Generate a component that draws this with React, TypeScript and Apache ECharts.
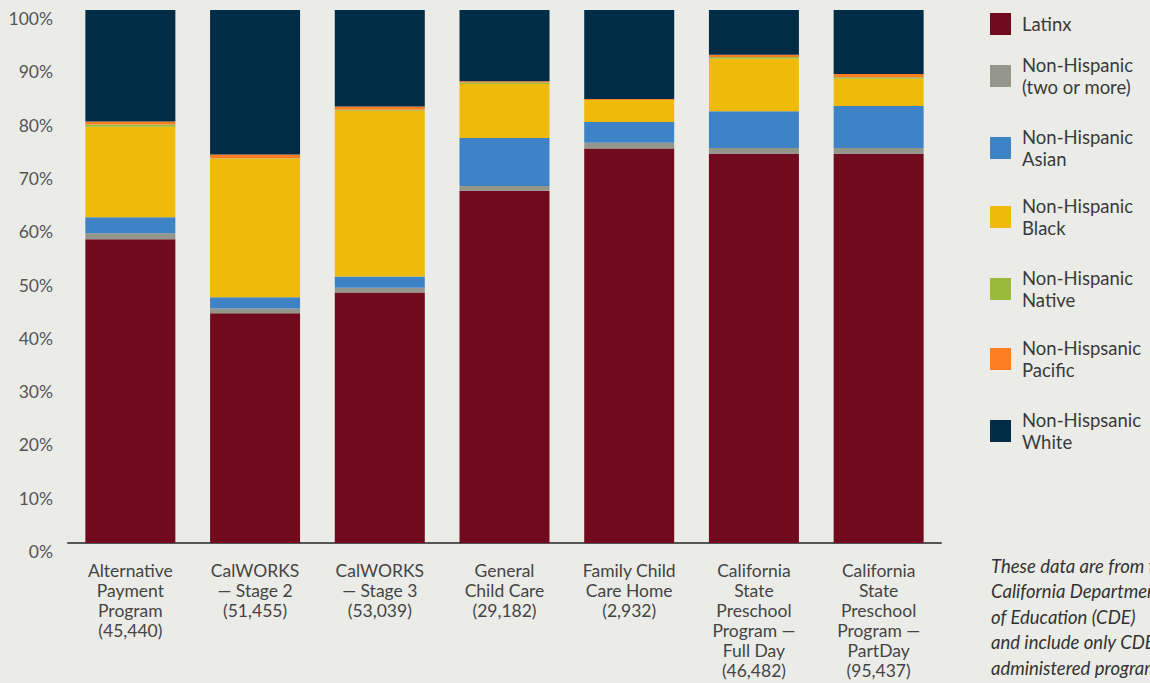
import React, { useEffect, useRef } from "react";
import * as echarts from "echarts";

const categories = [
  "Alternative\nPayment\nProgram\n(45,440)",
  "CalWORKS\n— Stage 2\n(51,455)",
  "CalWORKS\n— Stage 3\n(53,039)",
  "General\nChild Care\n(29,182)",
  "Family Child\nCare Home\n(2,932)",
  "California\nState\nPreschool\nProgram —\nFull Day\n(46,482)",
  "California\nState\nPreschool\nProgram —\nPartDay\n(95,437)",
];

const seriesNames = [
  "Latinx",
  "Non-Hispanic (two or more)",
  "Non-Hispanic Asian",
  "Non-Hispanic Black",
  "Non-Hispanic Native",
  "Non-Hispsanic Pacific",
  "Non-Hispsanic White",
];

const latinx = [57, 43.1, 47, 66.1, 74, 73, 73];
const twoOrMore = [1.1, 0.9, 0.9, 0.9, 1.1, 1.1, 1.1];
const asian = [3, 2.1, 2.1, 9, 3.9, 6.9, 7.9];
const black = [17, 26, 31.1, 10.1, 4.1, 9.9, 5.1];
const native = [0.4, 0.1, 0.2, 0.3, 0, 0.3, 0.3];
const pacific = [0.6, 0.7, 0.6, 0.25, 0.2, 0.4, 0.6];
const white = [20.9, 27.1, 18.1, 13.35, 17.1, 8.4, 12];

const seriesValues = [latinx, twoOrMore, asian, black, native, pacific, white];
const colors = ["#710a1d", "#94968b", "#3d83c5", "#efba0a", "#9bbb3c", "#fb7e23", "#002d45"];

const yTicks = [0, 10, 20, 30, 40, 50, 60, 70, 80, 90, 100];

const footnoteLines = [
  "These data are from the",
  "California Department",
  "of Education (CDE)",
  "and include only CDE-",
  "administered programs.",
];

const FONT = "Lato, 'Noto Sans', sans-serif";
const legendSquareTops = [12, 65, 137, 206, 278, 348, 420];

export default function App() {
  const ref = useRef<HTMLDivElement>(null);
  useEffect(() => {
    if (!ref.current) return;
    const chart = echarts.init(ref.current, undefined, { renderer: "svg" });
    const legends = seriesNames.map((name, i) => {
      const twoLine = name.indexOf(" ") >= 0;
      return {
        show: true,
        data: [name],
        left: 990,
        top: twoLine ? legendSquareTops[i] - 22 : legendSquareTops[i],
        orient: "vertical",
        padding: 0,
        itemWidth: 21,
        itemHeight: 22,
        itemGap: 0,
        selectedMode: false,
        icon: "rect",
        formatter: (n: string) => n.replace(" ", "\n"),
        textStyle: {
          fontFamily: FONT,
          fontSize: 18.5,
          color: "#3a3a3a",
          lineHeight: 22,
          padding: twoLine ? [22, 0, 0, 6] : [2, 0, 0, 6],
        },
      };
    });
    chart.setOption({
      animation: false,
      backgroundColor: "#ebece8",
      textStyle: { fontFamily: FONT },
      title: {
        text: footnoteLines.join("\n"),
        left: 991,
        top: 553,
        padding: 0,
        textStyle: {
          fontFamily: FONT,
          fontStyle: "italic",
          fontWeight: "normal",
          fontSize: 18.5,
          lineHeight: 25.5,
          color: "#333333",
        },
      },
      legend: legends,
      grid: { left: 68, right: 209, top: 10, bottom: 140, containLabel: false },
      xAxis: {
        type: "category",
        data: categories,
        axisLine: { show: true, lineStyle: { color: "#555555", width: 2 } },
        axisTick: { show: false },
        axisLabel: {
          interval: 0,
          margin: 17,
          fontFamily: FONT,
          fontSize: 17.5,
          lineHeight: 20,
          color: "#444444",
        },
      },
      yAxis: {
        type: "value",
        min: yTicks[0],
        max: yTicks[yTicks.length - 1],
        interval: 10,
        splitLine: { show: false },
        axisLine: { show: false },
        axisTick: { show: false },
        axisLabel: {
          formatter: "{value}%",
          margin: 15,
          fontFamily: FONT,
          fontSize: 17.5,
          color: "#555555",
          verticalAlign: "top",
          lineHeight: 17,
        },
      },
      series: seriesNames.map((name, i) => ({
        name,
        type: "bar",
        stack: "total",
        barWidth: 90,
        data: seriesValues[i],
        itemStyle: { color: colors[i] },
        emphasis: { disabled: true },
      })),
    });
    return () => chart.dispose();
  }, []);
  return (
    <div
      ref={ref}
      style={{ position: "fixed", left: 0, top: 0, width: 1150, height: 683 }}
    />
  );
}
